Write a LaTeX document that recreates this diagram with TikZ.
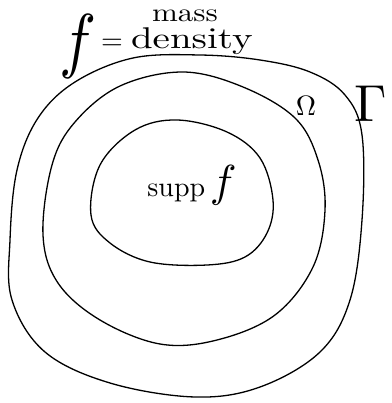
\documentclass[tikz,border=0pt]{standalone}
\usepackage{fontspec}
\tikzset{
  curve/.style={line width=1.3pt, line join=round},
  lbl/.style={inner sep=0pt, outer sep=0pt}
}
\begin{document}
\begin{tikzpicture}[x=1pt,y=-1pt]
\useasboundingbox (0,0) rectangle (391,403);
% outer boundary
\draw[curve] plot[smooth cycle, tension=0.6] coordinates {
 (75,82) (133,58) (200,55) (260,60) (310,72) (345,95) (362,135)
 (362,220) (350,300) (320,352) (260,387) (195,397) (110,383) (45,352)
 (12,300) (10,240) (17,170) (38,118)};
% middle curve
\draw[curve] plot[smooth cycle, tension=0.6] coordinates {
 (52,165) (75,122) (120,86) (183,72) (243,87) (295,118) (318,160) (325,210)
 (313,267) (275,315) (217,340) (160,344) (100,320) (58,283) (43,235)};
% inner curve
\draw[curve] plot[smooth cycle, tension=0.6] coordinates {
 (100,165) (135,130) (177,120) (227,132) (260,158) (273,200) (267,233) (245,257)
 (207,265) (150,262) (110,243) (91,215)};
% labels
\node[lbl, xscale=6.2, yscale=7.2] (f) at (78,47) {$f$};
\node[lbl, scale=2.8] (eq) at (112,44) {$=$};
\node[lbl, xscale=3.9, yscale=3.0, anchor=base west] (dens) at (131,49) {density};
\node[lbl, xscale=3.1, yscale=2.6] (mass) at (185,16) {mass};
\node[lbl, scale=2.8] (omega) at (306,106) {$\Omega$};
\node[lbl, scale=5.2] (gamma) at (371,104) {$\Gamma$};
\node[lbl, scale=2.8] (supp) at (192,185) {supp\,\scalebox{1.6}{$f$}};
\end{tikzpicture}
\end{document}
